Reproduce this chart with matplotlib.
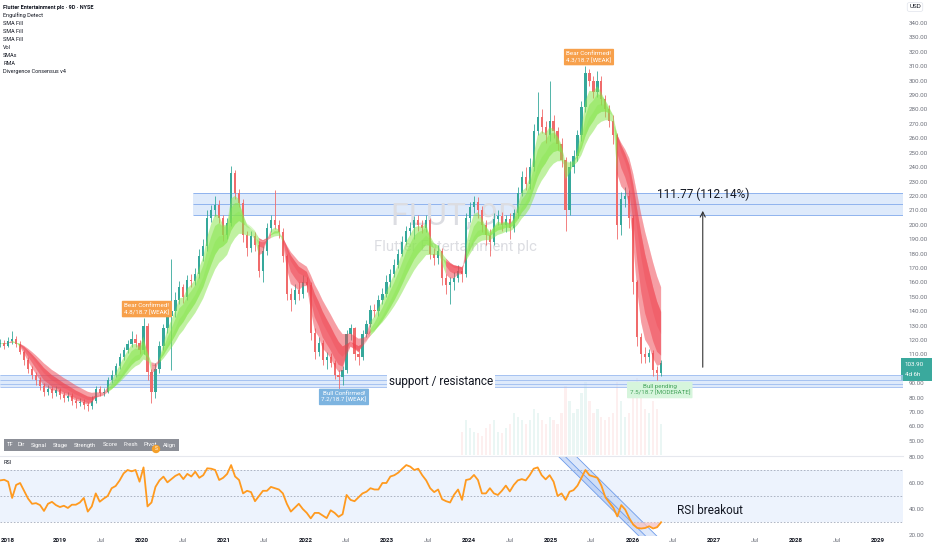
import numpy as np
import pandas as pd
import matplotlib
matplotlib.use("Agg")
import matplotlib.pyplot as plt
import matplotlib.dates as mdates
from matplotlib.patches import Rectangle

plt.rcParams['font.family'] = ['Roboto', 'DejaVu Sans']

# --- price data, one candle roughly every 18 days ---
start_date = '2018-04-09'
end_date = '2026-05-08'
first_open = 117

close = [118, 116, 119, 121, 117, 112, 106, 100, 96, 92,
         88, 84, 86, 83, 85, 82, 80, 81, 78, 76,
         77, 75, 74, 78, 86, 83, 84, 92, 96, 102,
         108, 113, 117, 121, 118, 113, 130, 98, 84, 100,
         116, 128, 137, 140, 148, 157, 150, 162, 161, 166,
         178, 185, 205, 210, 214, 205, 193, 201, 236, 222,
         215, 193, 184, 192, 186, 168, 182, 198, 203, 200,
         195, 178, 152, 148, 155, 152, 160, 158, 125, 112,
         118, 106, 108, 104, 96, 94, 99, 124, 128, 110,
         108, 124, 131, 141, 140, 148, 152, 160, 166, 172,
         180, 188, 196, 198, 203, 200, 198, 203, 180, 177,
         182, 163, 158, 160, 163, 168, 166, 205, 212, 216,
         210, 200, 193, 188, 204, 206, 200, 204, 198, 208,
         222, 233, 228, 240, 265, 275, 268, 262, 272, 265,
         256, 245, 210, 240, 248, 262, 282, 305, 300, 292,
         300, 287, 280, 272, 262, 200, 218, 220, 205, 160,
         122, 110, 108, 111, 99, 97, 104]

high = [121, 120, 122, 126, 123, 119, 113, 108, 102, 98,
        94, 90, 89, 88, 88, 87, 84, 84, 83, 80,
        80, 79, 77, 81, 88, 88, 87, 94, 99, 104,
        111, 115, 120, 126, 124, 120, 135, 132, 100, 104,
        119, 131, 140, 176, 153, 161, 159, 165, 166, 170,
        183, 190, 210, 214, 220, 217, 207, 205, 241, 238,
        225, 218, 196, 196, 195, 189, 185, 201, 207, 224,
        203, 198, 180, 156, 159, 160, 165, 164, 160, 128,
        122, 120, 112, 111, 106, 99, 102, 127, 131, 129,
        114, 127, 134, 144, 145, 151, 156, 165, 169, 176,
        183, 192, 199, 202, 206, 207, 203, 207, 205, 184,
        186, 184, 166, 164, 167, 172, 170, 208, 216, 220,
        219, 213, 203, 197, 208, 210, 209, 207, 208, 211,
        226, 237, 240, 246, 270, 292, 280, 272, 300, 276,
        268, 260, 247, 244, 252, 266, 286, 310, 308, 303,
        307, 303, 290, 283, 276, 264, 223, 226, 224, 207,
        162, 125, 115, 114, 113, 102, 106]

low = [115, 114, 115, 117, 115, 110, 103, 97, 93, 89,
       85, 81, 82, 80, 81, 79, 77, 78, 75, 73,
       74, 72, 71, 72, 76, 81, 81, 83, 90, 94,
       100, 106, 111, 115, 115, 110, 110, 92, 76, 80,
       97, 113, 125, 99, 136, 145, 146, 148, 157, 158,
       163, 175, 182, 202, 206, 201, 189, 190, 199, 218,
       212, 188, 178, 181, 182, 164, 160, 179, 195, 197,
       191, 174, 148, 140, 145, 148, 149, 153, 120, 107,
       109, 103, 100, 101, 93, 86, 89, 97, 120, 106,
       103, 106, 122, 129, 136, 137, 145, 150, 157, 164,
       170, 178, 186, 193, 190, 196, 194, 195, 176, 172,
       173, 158, 152, 145, 155, 160, 160, 164, 202, 208,
       205, 195, 186, 178, 186, 200, 196, 195, 190, 195,
       205, 220, 224, 225, 237, 262, 264, 257, 258, 260,
       252, 240, 196, 207, 236, 244, 258, 278, 296, 288,
       289, 283, 275, 268, 256, 190, 193, 212, 198, 152,
       116, 104, 104, 105, 95, 92, 95]

rsi = [62, 62.5, 61, 48.5, 58.5, 60, 54, 48, 44, 44.5,
       43, 38.5, 44, 45.5, 43, 41.5, 42.5, 40.8, 43.3, 43.3,
       45, 48.5, 38, 42, 52, 45.6, 48, 50, 56, 57.7,
       62, 67.4, 70, 69, 70, 61, 72, 42, 45, 57,
       62, 64.9, 60.5, 63, 65.5, 67, 63, 67, 65, 68.7,
       64, 66, 71.3, 71, 70, 62.3, 64, 67, 73.8, 65,
       62.3, 52, 54, 53, 46, 50, 54, 54, 57, 56,
       55, 52, 44, 38, 41, 44, 40, 37, 32.8, 37,
       37, 35, 33, 39, 37, 34, 36, 50.8, 47, 46,
       49, 52, 53.3, 56, 55, 55, 60, 60, 65, 66,
       68, 71, 73.8, 72.6, 70, 71, 66, 62, 56, 53,
       55, 47.5, 46, 45, 51, 55, 47, 62.3, 63, 66.2,
       62.3, 52, 52, 56, 52, 50.8, 54, 58, 53.5, 58.5,
       62, 63, 62, 66, 71, 72, 66, 62.8, 66, 61,
       50, 52, 47, 53.3, 54.5, 58, 64, 70, 66, 65,
       64, 58, 49, 45, 41, 34.3, 43, 39.5, 33, 28,
       25.4, 25, 25.4, 26.7, 25, 26, 29.8]

# volume only shows from the NYSE listing on (millions)
vol_from = 116
volume = [30, 45, 35, 30, 28, 25, 35, 40, 45, 30,
          28, 35, 40, 55, 50, 45, 40, 45, 60, 55,
          45, 40, 50, 45, 40, 55, 90, 70, 55, 60,
          80, 95, 70, 55, 60, 50, 45, 50, 55, 95,
          70, 50, 55, 80, 100, 85, 60, 55, 70, 60,
          40]

ribbon_spans = [3, 5, 8, 11, 15]

# zones and drawings
zone_top = (206.8, 222.0, 214.3)
zone_top_start = '2020-08-17'
zone_low = (87.4, 95.7)
zone_low_lines = [87.4, 89.8, 92.6, 95.7]
arrow_date, arrow_from, arrow_to = '2026-11-10', 99.2, 211.6
arrow_text = '111.77 (112.14%)'
signal_labels = [
    ('Bear Confirmed!\n4.8/18.7 [WEAK]', '2020-01-24', 141.5, '#f7a04b', 'white'),
    ('Bear Confirmed!\n4.3/18.7 [WEAK]', '2025-06-20', 316.4, '#f7a04b', 'white'),
    ('Bull Confirmed!\n7.2/18.7 [WEAK]', '2022-06-22', 80.5, '#7db4e0', 'white'),
    ('Bull pending\n7.5/18.7 [MODERATE]', '2026-05-02', 85.3, '#d6f5dc', '#43a35a'),
]
chan_dates = ['2025-02-06', '2026-02-02']
chan_rsi = [80, 18.5]
chan_offsets = [0, 30, 80]  # days

price_ticks = [50, 60, 70, 80, 90, 110, 120, 130, 140, 150, 160, 170, 180, 190,
               200, 210, 220, 230, 240, 250, 260, 270, 280, 290, 300, 310, 320, 330, 340]
rsi_ticks = [20, 40, 60, 80]
legend_lines = ['Engulfing Detect', 'SMA Fill', 'SMA Fill', 'SMA Fill', 'Vol',
                'SMAs', 'RMA', 'Divergence Consensus v4']
strip_words = ['TF', 'Dir', 'Signal', 'Stage', 'Strength', 'Score', 'Fresh', 'Pivot', 'Align']
strip_x = [7, 18, 31, 53, 74, 103, 124, 144, 163]

W, H = 932, 550
UP, DN = '#35a89b', '#f06b6b'
GREEN, RED = '#86e64a', '#f0434f'
LABEL = '#6f727c'


def px_box(left, top, width, height):
    return [left / W, 1 - (top + height) / H, width / W, height / H]


def ydate(y):
    return mdates.date2num(pd.Timestamp('2019-01-01') + pd.Timedelta(days=(y - 2019) * 365.25))


def dnum(s):
    return mdates.date2num(pd.Timestamp(s))


n = len(close)
dates = pd.date_range(start_date, end_date, periods=n)
x = mdates.date2num(dates)
opens = np.array([first_open] + close[:-1], dtype=float)
c = np.array(close, dtype=float)
up = c >= opens

fig = plt.figure(figsize=(W / 100, H / 100), dpi=100)
fig.patch.set_facecolor('white')
ax = fig.add_axes(px_box(0, 0, 903, 455))
axv = fig.add_axes(px_box(0, 355, 903, 100))
axr = fig.add_axes(px_box(0, 456, 903, 80))
axv.set_zorder(0)
ax.set_zorder(1)
axr.set_zorder(1)
ax.patch.set_visible(False)

xmin, xmax = ydate(2019 - 60 / 81.8), ydate(2019 + 843 / 81.8)
for a in (ax, axv, axr):
    a.set_xlim(xmin, xmax)

# volume
axv.bar(x[vol_from:], volume, width=10,
        color=[UP if u else DN for u in up[vol_from:]], alpha=0.1, lw=0)
axv.set_ylim(0, 130)
axv.axis('off')

# zones
ax.fill_between([dnum(zone_top_start), xmax], zone_top[0], zone_top[1],
                color='#c9dcf9', alpha=0.6, lw=0, zorder=1)
for v in zone_top:
    ax.hlines(v, dnum(zone_top_start), xmax, color='#8fb3ee', lw=0.7, zorder=1)
ax.fill_between([xmin, xmax], zone_low[0], zone_low[1], color='#c9dcf9', alpha=0.6, lw=0, zorder=1)
for v in zone_low_lines:
    ax.hlines(v, xmin, xmax, color='#9dbcf0', lw=0.6, zorder=1)

# watermark
ax.text(0.504, 0.527, 'FLUT, 9D', transform=ax.transAxes, ha='center', va='center',
        fontsize=23, color='#dcdde2', zorder=1.5)
ax.text(0.504, 0.457, 'Flutter Entertainment plc', transform=ax.transAxes, ha='center',
        va='center', fontsize=10.7, color='#dcdde2', zorder=1.5)

# candles
ax.vlines(x, low, high, colors=[UP if u else DN for u in up], lw=0.6, zorder=3)
body_h = np.where(np.abs(c - opens) < 0.6, 0.6, c - opens)
ax.bar(x, body_h, bottom=opens, width=10,
       color=[UP if u else DN for u in up], lw=0, zorder=3)

# moving-average ribbon
cs = pd.Series(close, dtype=float)
emas = [cs.ewm(span=s, adjust=False).mean().values for s in ribbon_spans]
bull = emas[1] >= emas[-1]
bull_e = bull.copy()
bull_e[1:] |= bull[:-1]
bear = ~bull
bear_e = bear.copy()
bear_e[1:] |= bear[:-1]
for i, j in [(0, 4), (0, 3), (1, 4), (1, 3), (2, 3)]:
    ax.fill_between(x, emas[i], emas[j], where=bull_e, color=GREEN, alpha=0.3, lw=0, zorder=4)
    ax.fill_between(x, emas[i], emas[j], where=bear_e, color=RED, alpha=0.3, lw=0, zorder=4)

# texts on the chart
ax.text(ydate(2023.658), sum(zone_low) / 2, 'support / resistance', ha='center', va='center',
        fontsize=8.5, color='#131722', zorder=5,
        bbox=dict(boxstyle='square,pad=0.15', fc='white', ec='none'))
ax.annotate('', xy=(dnum(arrow_date), arrow_to), xytext=(dnum(arrow_date), arrow_from),
            arrowprops=dict(arrowstyle='->', color='#333333', lw=0.8, mutation_scale=9), zorder=5)
ax.text(dnum(arrow_date), 221, arrow_text, ha='center', va='center', fontsize=8.5,
        color='#131722', zorder=5)
for txt, d, p, fc, tc in signal_labels:
    ax.text(dnum(d), p, txt, ha='center', va='center', fontsize=4.5, color=tc,
            linespacing=1.25, zorder=6,
            bbox=dict(boxstyle='round,pad=0.4,rounding_size=0.15', fc=fc, ec='none'))

# price axis
ax.set_ylim(40.2, 356)
ax.yaxis.tick_right()
ax.set_yticks(price_ticks)
ax.set_yticklabels([f'{v:.2f}' for v in price_ticks])
ax.tick_params(axis='y', length=0, pad=4.3, labelsize=4.5, labelcolor=LABEL)
ax.tick_params(axis='x', length=0, labelbottom=False)
for s in ax.spines.values():
    s.set_visible(False)

# RSI pane
axr.axhspan(30, 70, color='#edf3fd', lw=0, zorder=0)
for v in (30, 50, 70):
    axr.axhline(v, color='#a3abbb', lw=0.6, ls=(0, (2, 2)), zorder=1)
cd = [dnum(d) for d in chan_dates]
edges = [[d + off for d in cd] for off in chan_offsets]
axr.fill(edges[0] + edges[1][::-1], chan_rsi + chan_rsi[::-1], color='#5d8fe8', alpha=0.3, lw=0, zorder=2)
axr.fill(edges[1] + edges[2][::-1], chan_rsi + chan_rsi[::-1], color='#5d8fe8', alpha=0.2, lw=0, zorder=2)
for e in edges:
    axr.plot(e, chan_rsi, color='#6d9bea', lw=0.6, zorder=2)
r = np.array(rsi)
axr.fill_between(x, r, 30, where=r < 30, interpolate=True, color='#f6c4c4', alpha=0.8, lw=0, zorder=2)
axr.plot(x, r, color='#ff9a1f', lw=1.3, zorder=3)
axr.text(ydate(2026.946), 39.2, 'RSI breakout', ha='center', va='center', fontsize=8.5,
         color='#131722')
axr.set_ylim(19.23, 80.77)
axr.yaxis.tick_right()
axr.set_yticks(rsi_ticks)
axr.set_yticklabels([f'{v:.2f}' for v in rsi_ticks])
axr.tick_params(axis='y', length=0, pad=4.3, labelsize=4.5, labelcolor=LABEL)
for s in axr.spines.values():
    s.set_visible(False)
axr.spines['top'].set_visible(True)
axr.spines['top'].set_color('#e6e8ee')
axr.spines['top'].set_linewidth(0.8)
axr.text(0.004, 0.92, 'RSI', transform=axr.transAxes, fontsize=4, color='#131722', va='center')

# time axis
tick_pos, tick_lab = [], []
for yv in range(2019, 2030):
    tick_pos.append(dnum(f'{yv}-01-01'))
    tick_lab.append(str(yv))
    if yv < 2029:
        tick_pos.append(dnum(f'{yv}-07-01'))
        tick_lab.append('Jul')
axr.set_xticks(tick_pos)
axr.set_xticklabels(tick_lab)
axr.tick_params(axis='x', length=0, pad=1.6, labelsize=4.5)
for t in axr.get_xticklabels():
    if t.get_text() == 'Jul':
        t.set_color(LABEL)
    else:
        t.set_color('#131722')
        t.set_fontweight('bold')
fig.text(1 / W, 1 - 541 / H, '2018', fontsize=4.5, fontweight='bold', color='#131722',
         ha='left', va='center')

# legend block, top left
fig.text(3 / W, 1 - 7.3 / H, 'Flutter Entertainment plc \u00b7 9D \u00b7 NYSE', fontsize=4,
         fontweight='bold', color='#131722', va='center')
for k, line in enumerate(legend_lines):
    fig.text(3 / W, 1 - (15.6 + 8 * k) / H, line, fontsize=4, color='#131722', va='center')

# indicator table strip
fig.add_artist(Rectangle((4 / W, 1 - 451 / H), 175 / W, 12 / H, transform=fig.transFigure,
                         fc='#8c8f97', ec='none'))
for word, wx in zip(strip_words, strip_x):
    fig.text(wx / W, 1 - 445 / H, word, fontsize=4.2, color='white', va='center')
fig.text(156 / W, 1 - 449 / H, 'S', fontsize=3.5, color='white', ha='center', va='center',
         bbox=dict(boxstyle='circle,pad=0.2', fc='#f5a02a', ec='#f5a02a'))

# price scale extras
fig.text(915 / W, 1 - 7 / H, 'USD', fontsize=4.5, color='#131722', ha='center', va='center',
         bbox=dict(boxstyle='round,pad=0.3', fc='white', ec='#e0e3eb', lw=0.5))
fig.add_artist(Rectangle((901 / W, 1 - 381 / H), 31 / W, 23 / H, transform=fig.transFigure,
                         fc='#3aa99d', ec='none'))
fig.text(905 / W, 1 - 364 / H, f'{close[-1] - 0.1:.2f}', fontsize=4.5, color='white', va='center')
fig.text(905 / W, 1 - 375 / H, '4d 6h', fontsize=4.5, color='white', va='center')

fig.savefig('out.png', dpi=100)
